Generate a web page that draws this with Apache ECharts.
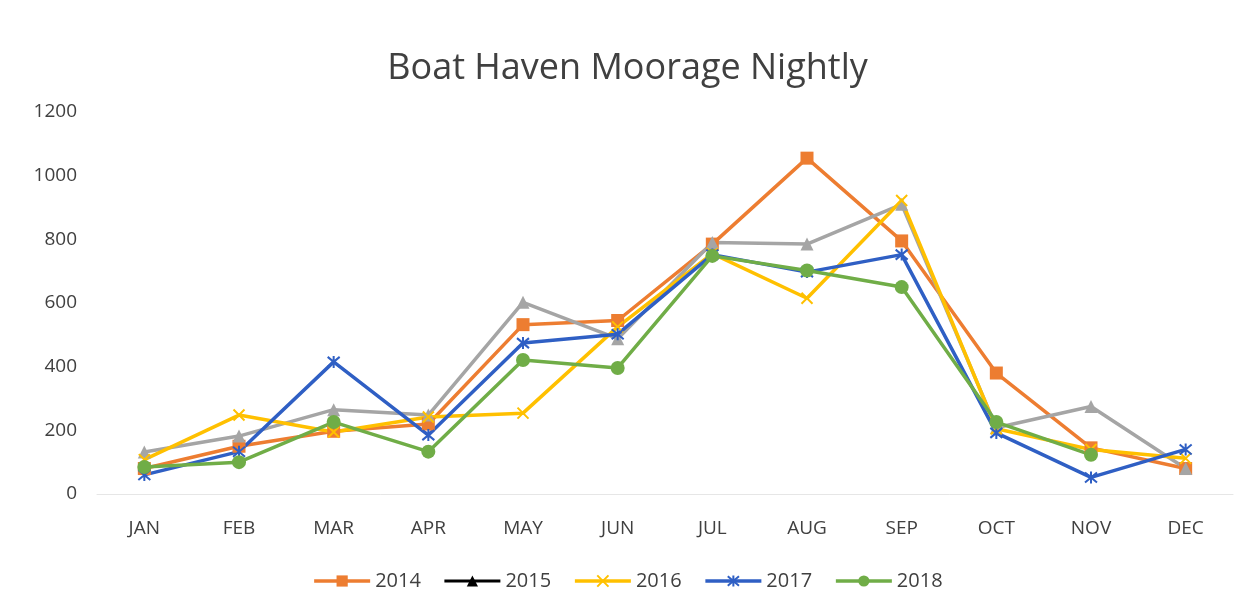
<!DOCTYPE html>
<html>
<head>
<meta charset="utf-8">
<script src="https://cdn.jsdelivr.net/npm/echarts@6/dist/echarts.min.js"></script>
<style>
  html, body { margin: 0; padding: 0; background: #ffffff; }
  #chart { width: 1255px; height: 616px; }
</style>
</head>
<body>
<div id="chart"></div>
<script>
var months = ["JAN", "FEB", "MAR", "APR", "MAY", "JUN", "JUL", "AUG", "SEP", "OCT", "NOV", "DEC"]
var years = ["2014", "2015", "2016", "2017", "2018"]
var y2014 = [80, 150, 197, 220, 532, 545, 785, 1055, 795, 380, 145, 80]
var y2015 = [132, 182, 265, 248, 602, 488, 790, 785, 910, 208, 275, 80]
var y2016 = [108, 248, 195, 242, 254, 525, 755, 615, 922, 205, 140, 112]
var y2017 = [60, 133, 415, 185, 474, 502, 752, 697, 752, 192, 52, 140]
var y2018 = [85, 100, 226, 133, 421, 396, 748, 702, 650, 226, 123, null]

var font = "'Open Sans', 'Noto Sans', sans-serif"
var crossPath = "path://M0,0L10,10M10,0L0,10"
var starPath = "path://M0,0L10,10M10,0L0,10M5,-1L5,11"

function makeSeries(name, data, color, symbol, size, stroked) {
  return {
    name: name,
    type: "line",
    data: data,
    symbol: symbol,
    symbolSize: size,
    showAllSymbol: true,
    connectNulls: false,
    lineStyle: { color: color, width: 3.5 },
    itemStyle: stroked
      ? { color: color, borderColor: color, borderWidth: 2 }
      : { color: color, borderWidth: 0 },
    emphasis: { disabled: true }
  }
}

var chart = echarts.init(document.getElementById("chart"))
chart.setOption({
  animation: false,
  backgroundColor: "#ffffff",
  title: {
    text: "Boat Haven Moorage Nightly",
    left: "center",
    top: 46,
    textStyle: { fontFamily: font, fontSize: 36, fontWeight: "normal", color: "#404040" }
  },
  legend: {
    bottom: 20,
    left: "center",
    itemWidth: 56,
    itemHeight: 14,
    itemGap: 22,
    textStyle: { fontFamily: font, fontSize: 20, color: "#404040" },
    data: [
      { name: "2014", lineStyle: { width: 3.5 } },
      { name: "2015", itemStyle: { color: "#000000" }, lineStyle: { color: "#000000", width: 3 } },
      { name: "2016", lineStyle: { width: 3.5 } },
      { name: "2017", lineStyle: { width: 3.5 } },
      { name: "2018", lineStyle: { width: 3.5 } }
    ]
  },
  grid: { left: 97, right: 22, top: 112, bottom: 122 },
  xAxis: {
    type: "category",
    data: months,
    boundaryGap: true,
    axisLine: { show: true, lineStyle: { color: "#e6e6e6" } },
    axisTick: { show: false },
    axisLabel: { fontFamily: font, fontSize: 19, color: "#404040", margin: 25 }
  },
  yAxis: {
    type: "value",
    min: 0,
    max: 1200,
    interval: 200,
    axisLine: { show: false },
    axisTick: { show: false },
    splitLine: { show: false },
    axisLabel: {
      fontFamily: font,
      fontSize: 19,
      color: "#404040",
      margin: 20,
      formatter: function (v) { return String(v) }
    }
  },
  series: [
    makeSeries("2014", y2014, "#ED7D31", "rect", 13, false),
    makeSeries("2015", y2015, "#A5A5A5", "triangle", 13, false),
    makeSeries("2016", y2016, "#FFC000", crossPath, 11, true),
    makeSeries("2017", y2017, "#2F5FC4", starPath, 12, true),
    makeSeries("2018", y2018, "#70AD47", "circle", 14, false)
  ]
})
</script>
</body>
</html>
